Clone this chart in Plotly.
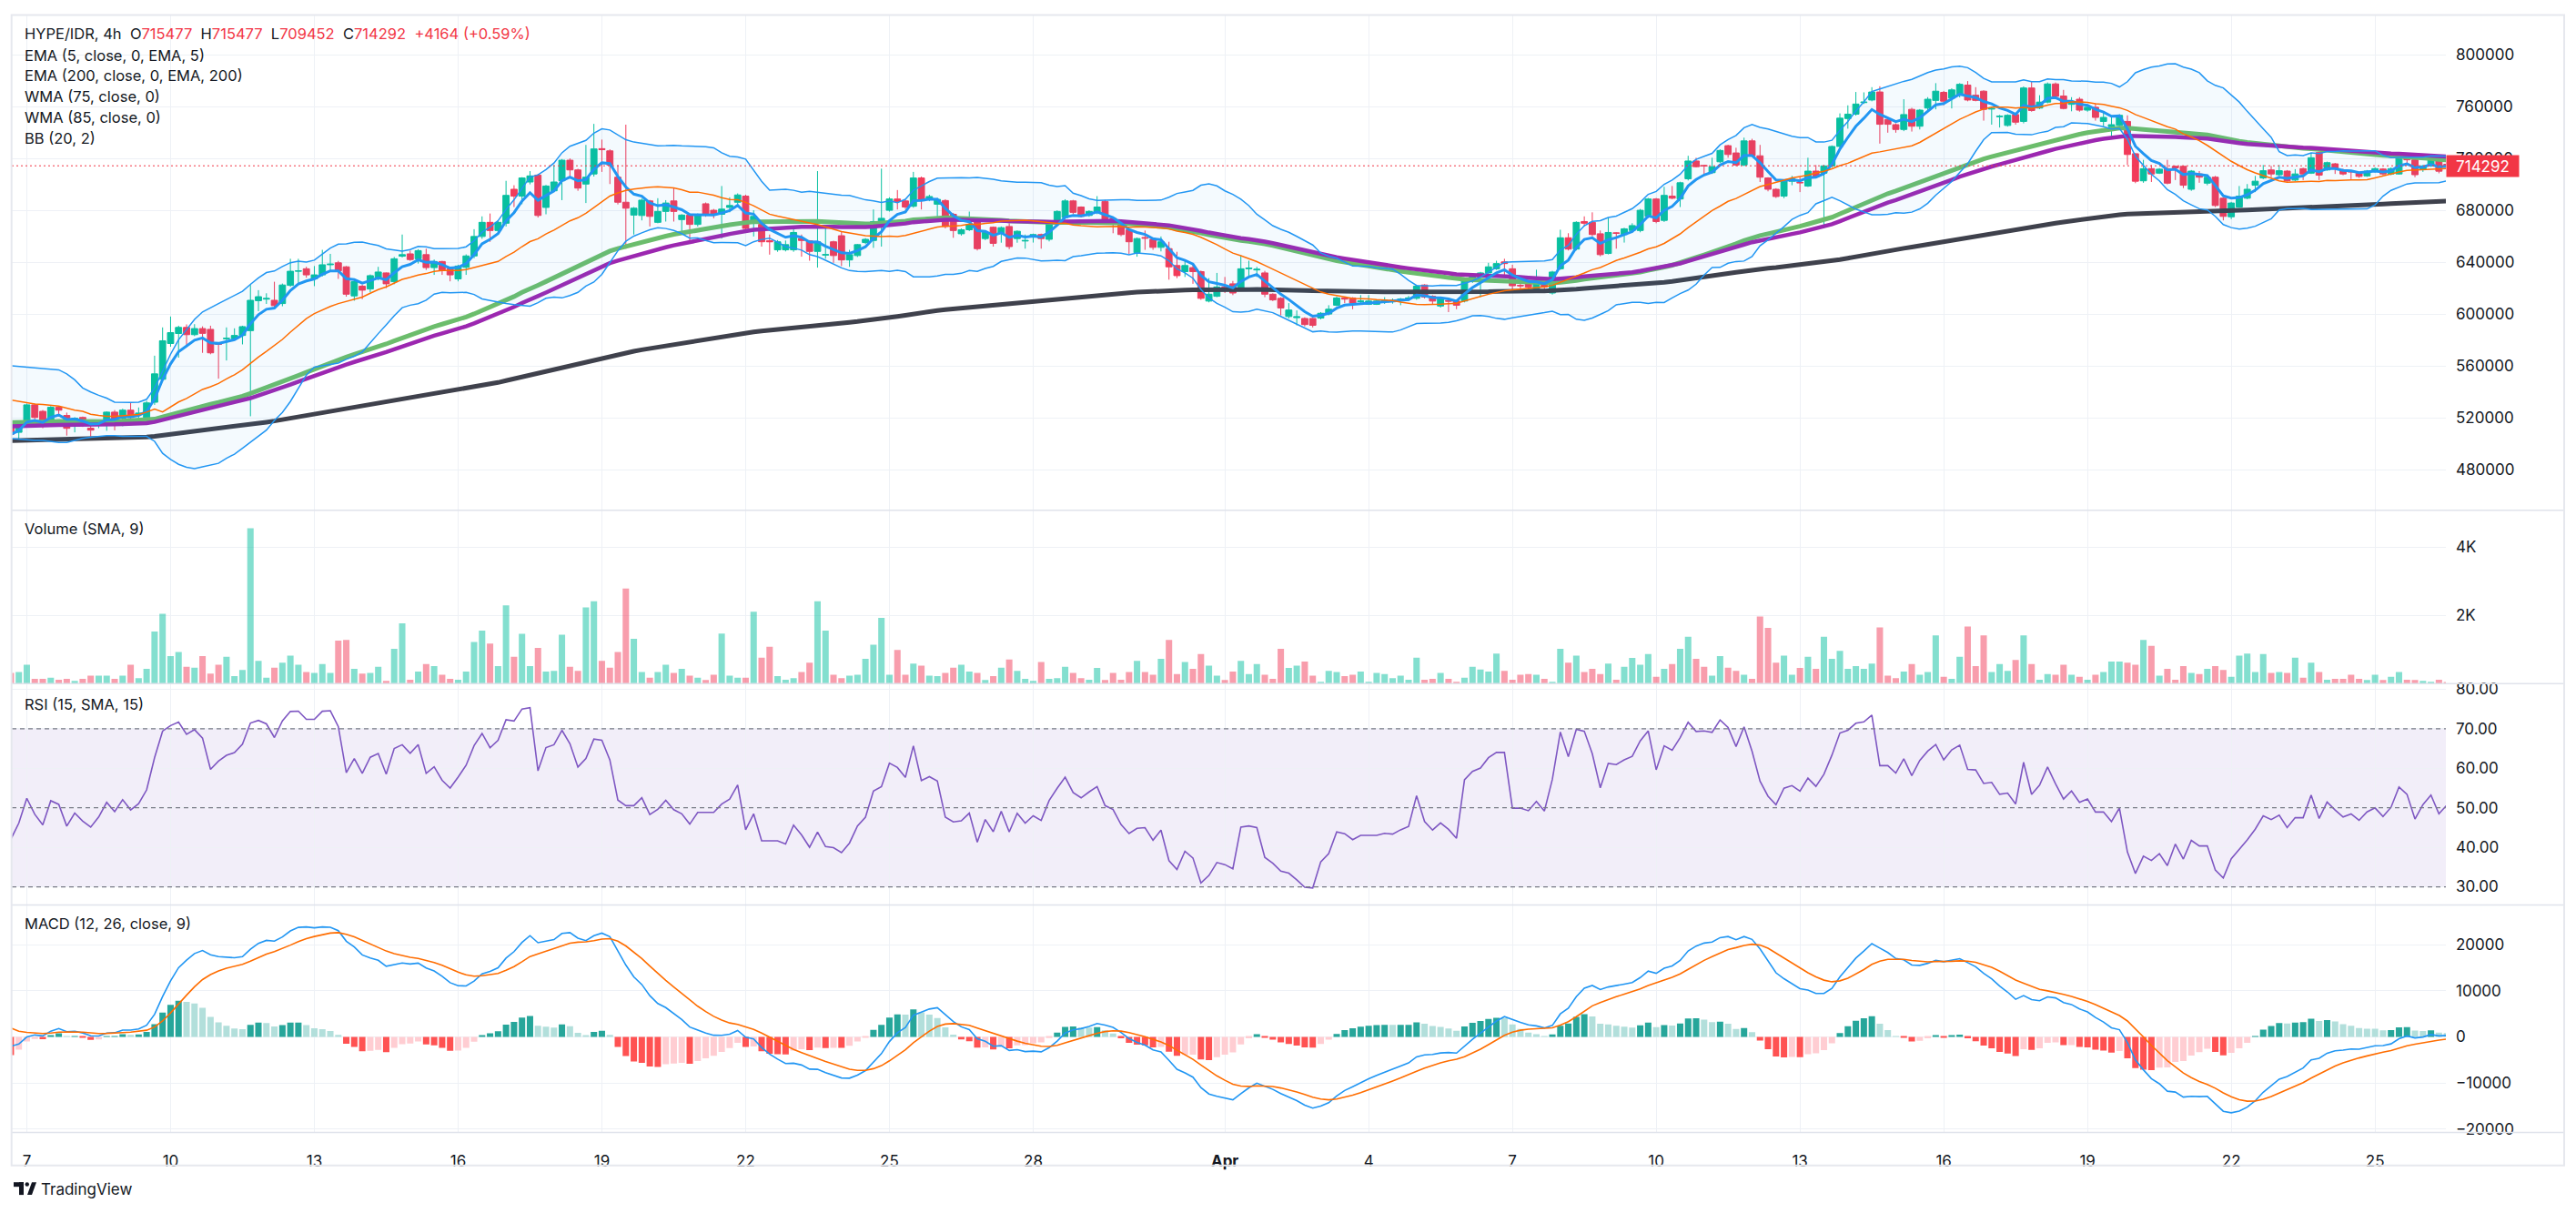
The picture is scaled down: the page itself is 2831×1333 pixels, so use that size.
import numpy as np
import pandas as pd
import plotly.graph_objects as go

# ---------------- DATA ----------------
SYMBOL = "HYPE/IDR, 4h"
START = "2025-03-06 16:00"          # first (partly hidden) 4h candle
# prices in thousands of IDR
OPEN_K = [
516.6, 508.8, 515.6, 530.0, 525.0, 516.6, 528.1, 521.8, 514.4, 520.3,
512.0, 514.5, 515.0, 524.4, 519.7, 525.9, 522.5, 518.8, 532.0, 549.7,
577.3, 585.0, 589.7, 584.1, 588.8, 588.2, 578.0, 581.0, 581.0, 583.5,
587.2, 610.3, 611.5, 610.6, 608.1, 622.1, 633.0, 634.9, 627.1, 630.2,
638.0, 639.5, 636.4, 614.0, 621.5, 619.3, 628.0, 631.7, 624.9, 644.6,
646.4, 642.6, 645.8, 635.8, 640.5, 634.9, 627.1, 636.0, 644.8, 659.8,
670.7, 664.4, 670.0, 696.2, 690.9, 701.8, 707.1, 682.2, 695.0, 702.7,
718.6, 711.1, 700.2, 708.0, 727.5, 725.8, 705.5, 686.2, 676.3, 676.0,
687.2, 670.7, 679.1, 687.2, 672.8, 676.3, 669.1, 685.0, 680.0, 676.9,
682.2, 686.2, 690.9, 670.7, 669.1, 656.5, 649.5, 649.5, 649.5, 658.2,
656.4, 648.3, 645.5, 655.7, 660.4, 641.7, 645.1, 655.1, 656.7, 670.7,
680.0, 688.7, 687.2, 683.1, 704.9, 688.4, 684.7, 687.5, 676.9, 661.9,
665.0, 671.6, 658.2, 666.9, 662.3, 667.5, 658.2, 656.3, 659.8, 661.3,
657.6, 670.7, 674.4, 687.2, 682.5, 676.0, 678.4, 686.8, 673.8, 670.0,
665.0, 647.3, 659.0, 657.6, 651.4, 650.4, 637.4, 632.7, 635.8, 632.7,
610.0, 613.7, 620.9, 623.3, 620.2, 634.9, 634.0, 631.7, 615.3, 612.1,
598.1, 597.2, 596.6, 596.6, 596.9, 600.0, 606.8, 612.4, 612.4, 609.6,
607.5, 607.5, 610.0, 610.0, 611.0, 611.8, 612.1, 622.4, 613.7, 606.2,
610.3, 610.0, 610.0, 625.5, 628.6, 631.7, 634.9, 640.2, 634.9, 622.1,
624.9, 618.4, 623.0, 616.2, 634.9, 658.8, 650.1, 671.3, 670.7, 661.9,
646.7, 662.6, 661.3, 664.4, 664.4, 675.3, 688.7, 672.2, 690.9, 688.7,
704.3, 718.0, 714.5, 709.0, 717.4, 729.8, 724.2, 714.9, 733.5, 722.0,
704.9, 696.2, 690.9, 702.4, 701.5, 698.7, 710.2, 708.6, 714.2, 729.2,
750.7, 754.1, 763.0, 765.0, 771.2, 750.0, 746.0, 742.3, 757.8, 744.8,
758.8, 764.7, 770.9, 766.5, 768.7, 776.5, 768.7, 771.8, 758.0, 752.2,
745.4, 753.8, 748.5, 774.3, 758.8, 763.4, 777.4, 768.1, 761.6, 765.6,
757.2, 759.4, 748.5, 744.4, 745.4, 748.5, 723.6, 702.7, 712.1, 708.6,
712.1, 713.9, 713.9, 696.2, 708.0, 700.9, 705.5, 689.3, 675.0, 682.5,
689.3, 699.3, 704.9, 711.1, 707.4, 710.2, 703.3, 712.1, 708.6, 724.5,
711.1, 715.8, 711.1, 710.2, 708.6, 706.5, 709.9, 711.8, 708.0, 708.0,
722.0, 718.9, 711.7, 714.2, 718.1, 715.477]
HIGH_K = [
518.0, 516.5, 531.0, 531.0, 526.0, 529.0, 529.0, 524.0, 520.5, 521.0,
516.0, 517.0, 525.0, 526.0, 527.0, 531.5, 528.0, 533.0, 567.9, 589.7,
598.1, 591.0, 592.0, 592.2, 590.5, 591.0, 578.3, 589.7, 589.0, 591.0,
622.4, 618.4, 616.0, 624.9, 623.5, 642.6, 642.6, 636.5, 637.0, 649.5,
646.4, 641.0, 637.0, 626.0, 622.5, 630.5, 636.4, 632.0, 644.0, 661.3,
648.9, 650.0, 650.4, 642.0, 641.0, 636.0, 638.0, 646.0, 665.4, 675.3,
677.5, 672.0, 702.7, 699.3, 705.5, 710.2, 708.0, 699.5, 714.9, 719.5,
720.0, 712.0, 730.4, 746.6, 734.5, 727.0, 714.9, 746.0, 682.5, 689.0,
688.0, 689.3, 687.8, 697.1, 677.0, 677.0, 677.5, 686.0, 681.0, 698.7,
690.0, 693.0, 692.0, 680.0, 670.0, 661.3, 657.0, 656.7, 666.0, 661.3,
657.0, 710.2, 666.0, 656.5, 663.5, 649.5, 654.0, 658.5, 680.6, 712.1,
690.0, 695.6, 688.0, 709.6, 706.0, 692.0, 689.5, 688.5, 678.0, 666.0,
679.0, 672.5, 664.0, 667.5, 667.5, 670.0, 664.5, 661.3, 662.0, 662.0,
672.0, 680.0, 688.5, 688.0, 683.0, 680.0, 690.9, 688.0, 674.5, 671.0,
666.0, 659.0, 664.4, 658.0, 659.8, 655.7, 648.0, 641.1, 638.9, 633.5,
627.7, 631.7, 628.6, 625.5, 645.1, 641.1, 636.4, 633.3, 616.0, 613.0,
608.4, 602.8, 597.5, 597.0, 601.5, 606.8, 613.5, 613.0, 613.0, 614.6,
614.6, 611.0, 613.0, 612.0, 612.4, 614.0, 622.5, 623.0, 614.5, 613.0,
611.0, 611.0, 627.5, 631.0, 632.5, 639.5, 641.1, 642.6, 638.0, 624.9,
625.5, 634.2, 624.0, 633.3, 665.0, 662.3, 671.5, 675.3, 678.4, 664.4,
674.4, 663.0, 666.5, 670.0, 681.0, 689.5, 689.5, 698.1, 698.7, 702.0,
722.0, 720.5, 715.0, 720.5, 727.0, 730.5, 728.2, 736.0, 735.1, 730.4,
705.5, 697.0, 703.0, 706.5, 705.5, 720.5, 714.9, 715.0, 730.0, 754.7,
760.9, 771.2, 770.9, 774.9, 775.6, 751.0, 747.0, 765.6, 759.0, 758.0,
767.2, 778.0, 772.0, 774.0, 778.0, 779.6, 774.9, 772.5, 759.5, 753.5,
754.0, 755.0, 775.5, 779.0, 768.7, 778.5, 778.5, 772.8, 767.2, 767.2,
761.6, 762.5, 755.3, 751.6, 754.0, 753.2, 724.0, 718.9, 714.9, 712.5,
718.9, 714.5, 714.5, 711.0, 710.2, 706.5, 706.5, 690.0, 686.5, 698.7,
700.2, 706.5, 714.9, 714.2, 714.9, 711.0, 711.7, 712.8, 724.2, 725.0,
717.5, 716.5, 712.0, 710.8, 709.5, 711.0, 713.0, 712.5, 713.0, 723.5,
722.5, 719.5, 714.9, 719.5, 718.9, 715.477]
LOW_K = [
505.0, 502.6, 514.0, 519.0, 512.0, 515.0, 521.0, 506.3, 508.8, 513.0,
505.7, 512.0, 510.0, 510.3, 513.5, 519.0, 519.7, 518.0, 530.0, 548.0,
574.8, 566.4, 576.3, 583.0, 570.1, 569.0, 550.2, 564.2, 580.0, 576.6,
521.2, 602.2, 607.8, 605.0, 606.0, 621.0, 624.0, 628.0, 621.5, 629.0,
633.3, 627.1, 613.4, 610.3, 611.5, 616.8, 626.0, 620.0, 623.0, 643.6,
641.0, 638.9, 634.0, 630.2, 630.2, 625.2, 625.2, 630.2, 643.0, 658.0,
655.7, 663.0, 667.5, 682.5, 684.7, 700.0, 674.4, 676.9, 694.0, 687.8,
704.9, 695.0, 685.6, 706.0, 709.6, 700.2, 684.5, 650.4, 661.3, 672.2,
667.5, 670.0, 671.3, 671.3, 662.9, 656.7, 667.5, 675.0, 673.8, 658.2,
678.4, 685.0, 665.0, 659.8, 652.0, 645.8, 648.0, 648.3, 648.0, 644.2,
641.1, 635.8, 642.6, 639.5, 637.0, 636.4, 644.0, 654.0, 651.0, 652.0,
679.0, 680.6, 681.0, 682.0, 680.6, 687.0, 675.3, 666.0, 658.8, 660.5,
664.0, 649.0, 657.0, 652.0, 655.0, 650.0, 655.0, 650.4, 655.1, 650.4,
656.0, 669.0, 673.0, 677.0, 674.5, 675.0, 677.0, 671.0, 662.3, 660.0,
646.4, 644.2, 649.5, 649.5, 648.3, 626.5, 627.7, 628.6, 623.3, 611.0,
609.0, 613.0, 616.2, 614.6, 619.0, 628.6, 628.6, 613.0, 610.0, 599.0,
596.6, 591.3, 590.5, 589.7, 595.9, 599.0, 606.0, 608.4, 603.7, 607.8,
607.0, 607.0, 607.8, 608.0, 606.8, 610.0, 611.0, 612.0, 607.8, 605.0,
601.5, 603.7, 609.0, 624.0, 613.1, 631.0, 634.0, 628.6, 617.7, 617.7,
616.8, 617.0, 616.2, 615.0, 634.0, 649.0, 649.0, 667.5, 660.0, 644.5,
646.0, 650.4, 655.1, 663.5, 663.0, 674.0, 670.0, 671.0, 688.5, 682.5,
703.0, 713.0, 708.0, 708.0, 716.5, 720.5, 714.0, 714.0, 721.0, 701.8,
694.6, 689.5, 689.3, 699.3, 694.0, 698.0, 705.0, 666.0, 713.0, 728.5,
742.9, 753.0, 762.0, 764.0, 731.4, 739.8, 739.8, 741.0, 740.7, 742.3,
757.0, 757.8, 760.9, 758.5, 767.0, 764.0, 764.0, 749.1, 746.0, 743.8,
744.5, 746.0, 747.0, 756.0, 758.0, 762.5, 767.0, 757.8, 756.3, 756.0,
756.0, 749.1, 744.8, 736.0, 744.5, 714.9, 700.9, 701.2, 701.8, 708.0,
700.0, 703.3, 697.1, 695.0, 701.2, 699.3, 682.5, 672.2, 673.2, 682.0,
688.5, 694.0, 704.0, 705.5, 706.5, 702.0, 702.5, 703.3, 708.0, 703.3,
710.5, 708.0, 707.0, 704.0, 705.0, 705.8, 709.0, 707.0, 707.0, 707.5,
715.8, 705.5, 709.6, 713.5, 708.5, 709.452]
CLOSE_K = [
507.3, 515.6, 530.0, 520.3, 513.5, 528.1, 525.9, 511.9, 519.7, 514.4,
510.5, 516.0, 524.4, 519.1, 525.9, 520.3, 523.7, 531.5, 553.9, 579.4,
585.7, 589.7, 584.1, 588.8, 585.1, 570.1, 576.6, 581.3, 583.5, 590.3,
610.6, 613.4, 612.0, 606.5, 622.4, 633.0, 633.3, 630.2, 630.2, 638.0,
638.5, 633.3, 615.3, 625.0, 618.4, 629.6, 632.4, 623.3, 642.6, 645.8,
642.0, 648.9, 635.8, 640.5, 634.0, 630.2, 637.0, 644.8, 659.8, 670.7,
664.4, 670.7, 691.5, 690.9, 704.9, 706.5, 676.0, 698.7, 701.8, 718.6,
711.1, 697.1, 705.5, 727.3, 726.7, 714.9, 686.2, 681.6, 681.6, 687.8,
675.3, 679.1, 685.6, 679.1, 676.3, 669.1, 676.3, 676.3, 676.3, 680.9,
683.7, 691.8, 666.0, 675.3, 655.7, 655.7, 655.7, 653.5, 662.9, 656.7,
648.3, 655.7, 645.8, 645.1, 641.7, 645.8, 653.5, 657.6, 671.3, 673.8,
688.7, 686.8, 682.5, 704.9, 687.8, 690.6, 688.4, 667.5, 664.4, 665.0,
669.1, 650.4, 662.9, 654.5, 666.6, 652.0, 663.8, 656.7, 661.3, 658.2,
670.7, 679.1, 687.2, 678.4, 675.3, 679.1, 682.5, 672.2, 670.0, 661.3,
655.7, 658.2, 658.5, 651.4, 655.7, 636.4, 629.6, 637.4, 632.7, 612.1,
615.3, 620.9, 619.3, 616.2, 634.9, 635.5, 634.5, 615.3, 610.9, 604.7,
603.1, 597.9, 591.9, 591.3, 600.6, 603.7, 612.4, 611.5, 608.4, 610.0,
610.0, 610.0, 610.6, 610.3, 611.5, 612.4, 621.5, 613.1, 610.0, 612.1,
609.9, 606.8, 626.5, 630.2, 631.7, 636.4, 638.9, 638.9, 621.8, 621.8,
620.9, 624.0, 620.9, 632.4, 658.8, 650.1, 670.7, 670.0, 661.3, 645.8,
662.9, 662.3, 665.7, 668.2, 680.0, 688.7, 671.3, 691.5, 689.3, 701.2,
718.0, 713.6, 714.2, 713.6, 726.1, 723.0, 714.9, 733.5, 722.0, 705.5,
696.2, 690.6, 702.4, 704.3, 701.2, 710.2, 705.8, 714.2, 729.2, 751.0,
754.1, 761.9, 763.4, 771.2, 746.3, 746.3, 742.3, 753.8, 744.8, 757.2,
765.6, 771.8, 764.1, 772.8, 777.1, 765.0, 764.7, 757.8, 758.5, 752.5,
753.2, 747.9, 774.3, 756.9, 763.4, 777.4, 767.8, 758.5, 764.1, 757.2,
759.4, 751.6, 751.6, 746.0, 753.2, 723.0, 702.4, 712.1, 708.0, 711.7,
700.9, 712.7, 699.3, 710.2, 705.5, 705.5, 683.7, 675.3, 685.6, 690.9,
696.2, 702.4, 710.5, 708.0, 710.5, 702.7, 708.0, 708.0, 720.5, 707.1,
716.7, 712.1, 708.0, 709.6, 706.1, 710.2, 712.1, 708.0, 712.1, 722.0,
718.9, 707.4, 714.2, 718.9, 710.128, 714.292]
VOLUME = [
318, 341, 553, 141, 141, 176, 118, 141, 82, 141,
235, 235, 235, 141, 235, 553, 165, 435, 1529, 2046,
811, 929, 494, 470, 811, 294, 553, 788, 223, 400,
4551, 670, 176, 470, 612, 823, 553, 341, 318, 576,
318, 1258, 1282, 435, 294, 318, 494, 82, 1023, 1764,
118, 353, 576, 517, 259, 141, 118, 353, 1223, 1552,
1176, 517, 2293, 788, 1458, 517, 1047, 353, 376, 1435,
494, 376, 2234, 2411, 670, 470, 929, 2787, 1317, 341,
176, 341, 553, 318, 435, 235, 176, 106, 259, 1470,
235, 176, 176, 2105, 764, 1082, 223, 118, 165, 341,
612, 2411, 1552, 259, 165, 235, 259, 729, 1141, 1929,
259, 988, 259, 588, 529, 235, 223, 318, 470, 553,
353, 318, 106, 223, 470, 706, 376, 141, 82, 635,
141, 165, 494, 318, 165, 118, 459, 106, 318, 118,
341, 670, 341, 259, 729, 1282, 282, 635, 435, 870,
529, 235, 106, 353, 670, 282, 576, 259, 141, 1023,
459, 529, 647, 235, 59, 376, 341, 223, 259, 353,
59, 318, 282, 165, 235, 118, 764, 118, 141, 318,
141, 59, 176, 494, 412, 353, 882, 376, 118, 259,
282, 259, 141, 59, 1023, 612, 823, 341, 435, 282,
588, 118, 494, 753, 553, 870, 200, 435, 576, 1023,
1376, 729, 494, 235, 811, 470, 376, 259, 141, 1964,
1635, 612, 823, 259, 459, 788, 435, 1376, 729, 964,
435, 517, 435, 588, 1646, 235, 165, 353, 576, 259,
341, 1411, 200, 141, 788, 1670, 517, 1411, 341, 576,
376, 694, 1411, 576, 118, 282, 259, 553, 259, 200,
118, 259, 341, 647, 647, 612, 553, 1282, 1105, 235,
435, 118, 517, 318, 282, 435, 517, 400, 200, 823,
882, 341, 870, 318, 341, 318, 764, 176, 612, 341,
118, 141, 141, 259, 141, 106, 259, 106, 200, 341,
118, 106, 82, 59, 118, 50]

# indicator start values read where the chart begins (earlier history is off-screen)
EMA200_START = 502300
WMA75_START = 516600
WMA85_START = 513500
BB_HEAD_UPPER_K = [560.2, 559.8, 559.2, 558.6, 558.0, 557.7, 557.0, 553.9, 549.3, 543.0,
                   539.9, 537.4, 535.2, 532.1, 531.8, 531.8, 532.1, 534.3, 543.0]
BB_HEAD_BASIS_K = [533.7, 532.8, 531.5, 530.6, 530.3, 529.9, 529.0, 527.5, 525.9, 525.0,
                   522.8, 521.9, 521.2, 521.2, 521.6, 521.9, 522.5, 524.4, 526.8]
BB_HEAD_LOWER_K = [504.1, 503.5, 503.2, 502.6, 502.6, 501.9, 501.0, 501.0, 502.6, 504.1,
                   505.0, 505.7, 506.3, 506.3, 505.7, 505.7, 505.7, 505.7, 501.9]
RSI_START_GAIN, RSI_START_LOSS = 3260.0, 4500.0
MACD_EMA12_START, MACD_EMA26_START, MACD_SIGNAL_START = 512200.0, 514000.0, 2900.0

LAST = dict(o=715477, h=715477, l=709452, c=714292, chg=4164, pct=0.59)

PRICE_TICKS = [480000, 520000, 560000, 600000, 640000, 680000, 720000, 760000, 800000]
VOL_TICKS, VOL_TEXT = [2000, 4000], ["2K", "4K"]
RSI_TICKS = [30, 40, 50, 60, 70, 80]
MACD_TICKS = [-20000, -10000, 0, 10000, 20000]
DAY_TICKS = ["2025-03-07", "2025-03-10", "2025-03-13", "2025-03-16", "2025-03-19",
             "2025-03-22", "2025-03-25", "2025-03-28", "2025-04-01", "2025-04-04",
             "2025-04-07", "2025-04-10", "2025-04-13", "2025-04-16", "2025-04-19",
             "2025-04-22", "2025-04-25"]
DAY_TEXT = ["7", "10", "13", "16", "19", "22", "25", "28", "<b>Apr</b>", "4", "7", "10",
            "13", "16", "19", "22", "25"]

# ---------------- indicators ----------------
o = np.array(OPEN_K) * 1000
h = np.array(HIGH_K) * 1000
l = np.array(LOW_K) * 1000
c = np.array(CLOSE_K) * 1000
vol = np.array(VOLUME, dtype=float)
N = len(c)
dates = pd.date_range(START, periods=N, freq="4h")


def ema(src, n, start):
    a = 2.0 / (n + 1)
    out, prev = [], start
    for i, v in enumerate(src):
        prev = v if (start is None and i == 0) else a * v + (1 - a) * prev
        out.append(prev)
    return np.array(out)


def wma(src, n, start):
    ext = np.concatenate([np.full(n - 1, start), src])
    w = np.arange(1, n + 1, dtype=float)
    return np.array([np.dot(ext[i:i + n], w) / w.sum() for i in range(len(src))])


ema5 = ema(c, 5, None)
ema200 = ema(c, 200, EMA200_START)
wma75 = wma(c, 75, WMA75_START)
wma85 = wma(c, 85, WMA85_START)

nh = len(BB_HEAD_BASIS_K)
bb_mid = list(np.array(BB_HEAD_BASIS_K) * 1000)
bb_up = list(np.array(BB_HEAD_UPPER_K) * 1000)
bb_lo = list(np.array(BB_HEAD_LOWER_K) * 1000)
for i in range(nh, N):
    win = c[i - 19:i + 1]
    m, s = win.mean(), win.std()
    bb_mid.append(m); bb_up.append(m + 2 * s); bb_lo.append(m - 2 * s)

g, ls = RSI_START_GAIN, RSI_START_LOSS
rsi = [100 - 100 / (1 + g / ls)]
for i in range(1, N):
    ch = c[i] - c[i - 1]
    g = (g * 14 + max(ch, 0)) / 15
    ls = (ls * 14 + max(-ch, 0)) / 15
    rsi.append(100 - 100 / (1 + g / ls))

e12 = ema(c, 12, MACD_EMA12_START)
e26 = ema(c, 26, MACD_EMA26_START)
macd = e12 - e26
signal = ema(macd, 9, MACD_SIGNAL_START)
hist = macd - signal
hist_col = []
for i, v in enumerate(hist):
    prev = hist[i - 1] if i > 0 else v
    if v >= 0:
        hist_col.append("#26A69A" if v > prev else "#B2DFDB")
    else:
        hist_col.append("#FFCDD2" if v > prev else "#FF5252")

# ---------------- styling / layout ----------------
W, H = 2831, 1333
UP, DOWN = "#08C09F", "#F23B5A"
UP_V, DOWN_V = "rgba(8,192,159,0.5)", "rgba(242,59,90,0.5)"
GRID = "#EEF1F6"
TXT = "#131722"
FONT = "Inter"
LEG_SIZE = 16.5
AX_SIZE = 17


def fx(px):
    return px / W


def fy(py):
    return 1 - py / H


XDOM = [fx(13), fx(2688)]
P_TOP, P_BOT = 13.5, 561
V_BOT, R_BOT, M_BOT = 753, 998, 1250
t0 = dates[0]
x_range = [t0 + pd.Timedelta(hours=4 * 0.125), t0 + pd.Timedelta(hours=4 * 304.87)]

fig = go.Figure()

# price pane
fig.add_trace(go.Candlestick(
    x=dates, open=o, high=h, low=l, close=c, xaxis="x", yaxis="y",
    increasing=dict(line=dict(color=UP, width=1), fillcolor=UP),
    decreasing=dict(line=dict(color=DOWN, width=1), fillcolor=DOWN),
    whiskerwidth=0, hoverinfo="skip"))
fig.add_trace(go.Scatter(x=dates, y=ema200, mode="lines", line=dict(color="#3F414C", width=5),
                         xaxis="x", yaxis="y", hoverinfo="skip"))
fig.add_trace(go.Scatter(x=dates, y=wma75, mode="lines", line=dict(color="#6CBD6C", width=5),
                         xaxis="x", yaxis="y", hoverinfo="skip"))
fig.add_trace(go.Scatter(x=dates, y=wma85, mode="lines", line=dict(color="#9C27B0", width=4.5),
                         xaxis="x", yaxis="y", hoverinfo="skip"))
fig.add_trace(go.Scatter(x=dates, y=ema5, mode="lines", line=dict(color="#2196F3", width=3),
                         xaxis="x", yaxis="y", hoverinfo="skip"))
fig.add_trace(go.Scatter(x=dates, y=bb_up, mode="lines", line=dict(color="#2196F3", width=1.5),
                         xaxis="x", yaxis="y", hoverinfo="skip"))
fig.add_trace(go.Scatter(x=dates, y=bb_lo, mode="lines", line=dict(color="#2196F3", width=1.5),
                         fill="tonexty", fillcolor="rgba(33,150,243,0.05)",
                         xaxis="x", yaxis="y", hoverinfo="skip"))
fig.add_trace(go.Scatter(x=dates, y=bb_mid, mode="lines", line=dict(color="#FF6D00", width=1.5),
                         xaxis="x", yaxis="y", hoverinfo="skip"))

# volume pane
fig.add_trace(go.Bar(x=dates, y=vol, marker=dict(color=[UP_V if cc >= oo else DOWN_V for oo, cc in zip(o, c)], line=dict(width=0)),
                     xaxis="x2", yaxis="y2", hoverinfo="skip"))

# RSI pane
fig.add_trace(go.Scatter(x=dates, y=rsi, mode="lines", line=dict(color="#7E57C2", width=1.6),
                         xaxis="x3", yaxis="y3", hoverinfo="skip"))

# MACD pane
fig.add_trace(go.Bar(x=dates, y=hist, marker=dict(color=hist_col, line=dict(width=0)),
                     xaxis="x4", yaxis="y4", hoverinfo="skip"))
fig.add_trace(go.Scatter(x=dates, y=macd, mode="lines", line=dict(color="#2196F3", width=1.6),
                         xaxis="x4", yaxis="y4", hoverinfo="skip"))
fig.add_trace(go.Scatter(x=dates, y=signal, mode="lines", line=dict(color="#FF6D00", width=1.6),
                         xaxis="x4", yaxis="y4", hoverinfo="skip"))

xcommon = dict(type="date", range=x_range, domain=XDOM, tickvals=DAY_TICKS, ticktext=DAY_TEXT,
               showgrid=True, gridcolor=GRID, gridwidth=1, zeroline=False, showline=False,
               ticks="", fixedrange=True, rangeslider=dict(visible=False))
ycommon = dict(side="right", showgrid=True, gridcolor=GRID, gridwidth=1, zeroline=False,
               showline=False, ticks="", fixedrange=True, ticklabelstandoff=10,
               tickfont=dict(family=FONT, size=AX_SIZE, color=TXT))

fig.update_layout(
    width=W, height=H, margin=dict(l=0, r=0, t=0, b=0),
    paper_bgcolor="white", plot_bgcolor="white", showlegend=False, hovermode=False,
    boxgap=0.22, boxgroupgap=0, bargap=0.2,
    font=dict(family=FONT, size=16, color=TXT),
    xaxis=dict(xcommon, anchor="y", showticklabels=False),
    xaxis2=dict(xcommon, anchor="y2", showticklabels=False),
    xaxis3=dict(xcommon, anchor="y3", showticklabels=False),
    xaxis4=dict(xcommon, anchor="y4", showticklabels=True, ticklabelstandoff=19,
                tickfont=dict(family=FONT, size=AX_SIZE, color=TXT)),
    yaxis=dict(ycommon, domain=[fy(P_BOT), fy(P_TOP)], anchor="x", range=[448700, 829900],
               tickvals=PRICE_TICKS, ticktext=[str(v) for v in PRICE_TICKS]),
    yaxis2=dict(ycommon, domain=[fy(V_BOT), fy(P_BOT)], anchor="x2", range=[0, 5073],
                tickvals=VOL_TICKS, ticktext=VOL_TEXT),
    yaxis3=dict(ycommon, domain=[fy(R_BOT), fy(V_BOT)], anchor="x3", range=[25.4, 81.4],
                tickvals=RSI_TICKS, ticktext=[f"{v:.2f}" for v in RSI_TICKS]),
    yaxis4=dict(ycommon, domain=[fy(M_BOT), fy(R_BOT)], anchor="x4", range=[-20784, 28627],
                tickvals=MACD_TICKS, ticktext=[str(v).replace("-", "\u2212") for v in MACD_TICKS]),
)

shapes = []
# RSI band and levels
shapes.append(dict(type="rect", xref="x3 domain", yref="y3", x0=0, x1=1, y0=30, y1=70,
                   fillcolor="rgba(126,87,194,0.1)", line=dict(width=0), layer="below"))
for lv in (70, 50, 30):
    shapes.append(dict(type="line", xref="x3 domain", yref="y3", x0=0, x1=1, y0=lv, y1=lv,
                       line=dict(color="#787B86", width=1.2, dash="5px,4px")))
# last price dotted line
shapes.append(dict(type="line", xref="x domain", yref="y", x0=0, x1=1, y0=LAST["c"], y1=LAST["c"],
                   line=dict(color="#F23645", width=1, dash="2px,3px")))
# pane separators and outer frame
for yy in (P_BOT, V_BOT, R_BOT, M_BOT):
    shapes.append(dict(type="line", xref="paper", yref="paper", x0=fx(13), x1=fx(2818),
                       y0=fy(yy), y1=fy(yy), line=dict(color="#E0E3EB", width=1.5)))
shapes.append(dict(type="rect", xref="paper", yref="paper", x0=fx(12.7), x1=fx(2818),
                   y0=fy(1286.5), y1=fy(12.7), line=dict(color="#E6E8EE", width=2)))
# TradingView logo glyph
LY = 1305   # logo top
shapes.append(dict(type="rect", xref="paper", yref="paper", x0=fx(15), x1=fx(26), y0=fy(LY + 5), y1=fy(LY),
                   fillcolor="#131722", line=dict(width=0)))
shapes.append(dict(type="rect", xref="paper", yref="paper", x0=fx(21), x1=fx(26), y0=fy(LY + 14), y1=fy(LY),
                   fillcolor="#131722", line=dict(width=0)))
shapes.append(dict(type="circle", xref="paper", yref="paper", x0=fx(27.5), x1=fx(32), y0=fy(LY + 4.5), y1=fy(LY),
                   fillcolor="#131722", line=dict(width=0)))
shapes.append(dict(type="path", xref="paper", yref="paper",
                   path=f"M {fx(30)} {fy(LY + 14)} L {fx(35)} {fy(LY)} L {fx(40)} {fy(LY)} L {fx(35)} {fy(LY + 14)} Z",
                   fillcolor="#131722", line=dict(width=0)))
fig.update_layout(shapes=shapes)

RED = "#F23645"
def red(s):
    return f"<span style='color:{RED}'>{s}</span>"

head = (f"{SYMBOL}  O{red(LAST['o'])}  H{red(LAST['h'])}  L{red(LAST['l'])}  "
        f"C{red(LAST['c'])}  {red('+' + str(LAST['chg']) + ' (+' + format(LAST['pct'], '.2f') + '%)')}")
legend_lines = [head, "EMA (5, close, 0, EMA, 5)", "EMA (200, close, 0, EMA, 200)",
                "WMA (75, close, 0)", "WMA (85, close, 0)", "BB (20, 2)"]
legend_y = [33, 57, 80, 103, 126, 149]
ann = []
for txt, yy in zip(legend_lines, legend_y):
    ann.append(dict(text=txt, xref="paper", yref="paper", x=fx(25), y=fy(yy), xanchor="left",
                    yanchor="middle", showarrow=False, font=dict(family=FONT, size=LEG_SIZE, color=TXT)))
for txt, yy in (("Volume (SMA, 9)", 581), ("RSI (15, SMA, 15)", 776), ("MACD (12, 26, close, 9)", 1019)):
    ann.append(dict(text=txt, xref="paper", yref="paper", x=fx(25), y=fy(yy), xanchor="left",
                    yanchor="middle", showarrow=False, font=dict(family=FONT, size=LEG_SIZE, color=TXT)))
ann.append(dict(text=str(LAST["c"]), xref="paper", yref="y", x=fx(2688), y=LAST["c"], xanchor="left",
                yanchor="middle", showarrow=False, bgcolor=RED, borderpad=2, width=75, height=19,
                font=dict(family=FONT, size=AX_SIZE, color="white")))
ann.append(dict(text="TradingView", xref="paper", yref="paper", x=fx(43), y=fy(LY + 7.5), xanchor="left",
                yanchor="middle", showarrow=False, font=dict(family=FONT, size=17, color=TXT)))
fig.update_layout(annotations=ann)

fig.write_html("out.html")
